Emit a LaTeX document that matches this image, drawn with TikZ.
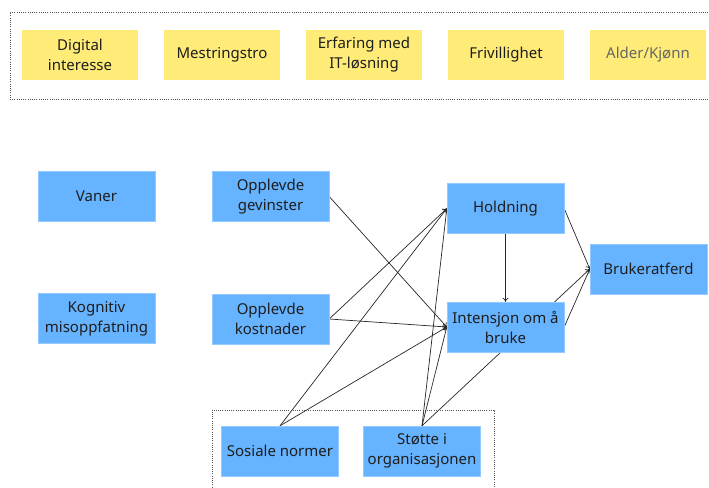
\documentclass[tikz,border=0pt]{standalone}
\usepackage{fontspec}
\setmainfont{Noto Sans}
\usetikzlibrary{arrows.meta,positioning,backgrounds}
\usepackage{xcolor}
\definecolor{cblue}{HTML}{66B3FF}
\definecolor{cyellow}{HTML}{FFEC78}
\definecolor{ctext}{HTML}{1E1E1E}
\definecolor{cframe}{HTML}{555555}

\begin{document}
\begin{tikzpicture}[x=1pt, y=-1pt,
    factor/.style={fill=cyellow, minimum width=116pt, minimum height=50pt,
                   align=center, text=ctext, inner sep=2pt,
                   font=\fontsize{15}{20}\selectfont},
    concept/.style={fill=cblue, draw=cblue!70!white, line width=0.4pt,
                    minimum width=117pt, minimum height=50pt,
                    align=center, text=ctext, inner sep=2pt,
                    font=\fontsize{15}{20}\selectfont},
    link/.style={draw=black!85, line width=0.7pt, -{To[length=4pt, width=6pt]}},
    group/.style={draw=cframe, line width=0.8pt, dash pattern=on 1pt off 1.2pt}]
  \useasboundingbox (0,0) rectangle (709,487);

  \draw[group] (715,12) -- (10,12) -- (10,99) -- (715,99);
  \node[factor] (digital) at (80,55)  {Digital\\interesse};
  \node[factor] (mestring) at (222,55) {Mestringstro};
  \node[factor] (erfaring) at (364,55) {Erfaring med\\IT-løsning};
  \node[factor] (frivillig) at (506,55) {Frivillighet};
  \node[factor, text=black!60] (alder) at (648,55) {Alder/Kjønn};

  \node[concept] (vaner) at (96.5,196.5) {Vaner};
  \node[concept] (kognitiv) at (96.5,318.5) {Kognitiv\\misoppfatning};
  \node[concept] (gevinster) at (270.5,196.5) {Opplevde\\gevinster};
  \node[concept] (kostnader) at (270.5,319) {Opplevde\\kostnader};
  \node[concept] (holdning) at (505.5,208.5) {Holdning};
  \node[concept] (intensjon) at (505.5,327) {Intensjon om å\\bruke};
  \node[concept] (atferd) at (648.5,269) {Brukeratferd};

  \draw[group] (212,492) -- (212,410) -- (494,410) -- (494,492);
  \node[concept] (sosiale) at (280,451) {Sosiale normer};
  \node[concept] (stotte) at (422,451) {Støtte i\\organisasjonen};

  \begin{scope}[on background layer]
    \draw[link] (gevinster.east) -- (intensjon.west);
    \draw[link] (kostnader.east) -- (holdning.west);
    \draw[link] (kostnader.east) -- (intensjon.west);
    \draw[link] (sosiale.north) -- (holdning.west);
    \draw[link] (sosiale.north) -- (intensjon.west);
    \draw[link] (stotte.north) -- (holdning.west);
    \draw[link] (stotte.north) -- (intensjon.west);
    \draw[link] (stotte.north) -- (atferd.west);
    \draw[link] (holdning.south) -- (intensjon.north);
    \draw[link] (holdning.east) -- (atferd.west);
    \draw[link] (intensjon.east) -- (atferd.west);
  \end{scope}
\end{tikzpicture}
\end{document}
